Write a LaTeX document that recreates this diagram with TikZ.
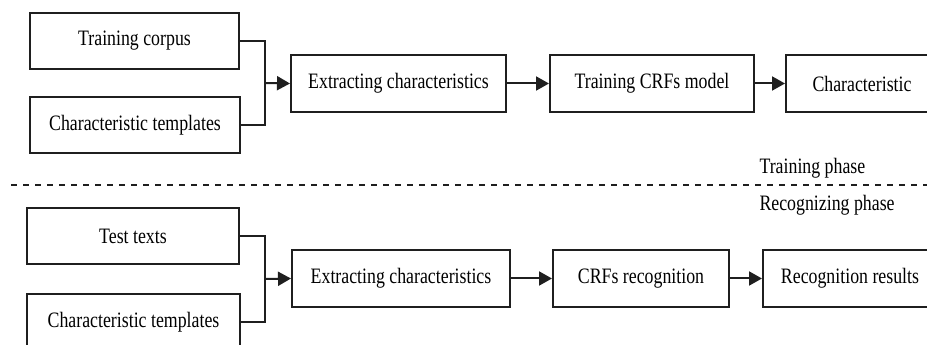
\documentclass[tikz,border=0pt]{standalone}
\usepackage{fontspec}
\setmainfont{Liberation Serif}[FakeStretch=0.81]
\usepackage{tikz}
\usetikzlibrary{arrows.meta}
\usetikzlibrary{positioning}
\definecolor{linecolor}{gray}{0.12}

\begin{document}
\begin{tikzpicture}[x=1pt, y=1pt,
% define styles here
stagebox/.style={rectangle, draw=linecolor, line width=2pt, minimum height=56pt, inner sep=0pt,
  font=\fontsize{22pt}{25pt}\selectfont},
flowline/.style={draw=linecolor, line width=2pt},
flowarrow/.style={flowline, -{Triangle[length=13pt,width=14pt]}},
phasetext/.style={anchor=west, font=\fontsize{22pt}{25pt}\selectfont}
]
\useasboundingbox (0,0) rectangle (927,345);
\clip (0,0) rectangle (927,345);

% training phase
\node[stagebox, minimum width=209pt] (corpus) at (134.5, 304) {Training corpus};
\node[stagebox, minimum width=210pt] (tmplA) at (135, 220) {Characteristic templates};
\node[stagebox, minimum width=215pt, minimum height=57pt] (extractA) at (398.5, 261.5) {Extracting characteristics};
\node[stagebox, minimum width=204pt, minimum height=57pt] (crfA) at (652, 261.5) {Training CRFs model};
\node[stagebox, minimum width=152pt, minimum height=57pt] (charA) at (862, 261.5) {Characteristic};
\coordinate (joinA) at (265, 262);

\draw[flowline] (corpus.east) -| (joinA) |- (tmplA.east);
\draw[flowarrow] (joinA) -- (extractA.west);
\draw[flowarrow] (extractA) -- (crfA);
\draw[flowarrow] (crfA) -- (charA);

\node[phasetext] (trainphase) at (756, 177) {Training phase};

% separator
\draw[draw=linecolor, line width=1.6pt, dash pattern=on 6pt off 6pt] (11, 160) -- (927, 160);

\node[phasetext] (recogphase) at (756, 140) {Recognizing phase};

% recognizing phase
\node[stagebox, minimum width=212pt] (test) at (133, 109) {Test texts};
\node[stagebox, minimum width=213pt] (tmplB) at (133.5, 23) {Characteristic templates};
\node[stagebox, minimum width=218pt, minimum height=57pt] (extractB) at (401, 66.5) {Extracting characteristics};
\node[stagebox, minimum width=176pt, minimum height=57pt] (crfB) at (641, 66.5) {CRFs recognition};
\node[stagebox, minimum width=174pt, minimum height=57pt] (resB) at (850, 66.5) {Recognition results};
\coordinate (joinB) at (265, 66);

\draw[flowline] (test.east) -| (joinB) |- (tmplB.east);
\draw[flowarrow] (joinB) -- (extractB.west);
\draw[flowarrow] (extractB) -- (crfB);
\draw[flowarrow] (crfB) -- (resB);
\end{tikzpicture}
\end{document}
